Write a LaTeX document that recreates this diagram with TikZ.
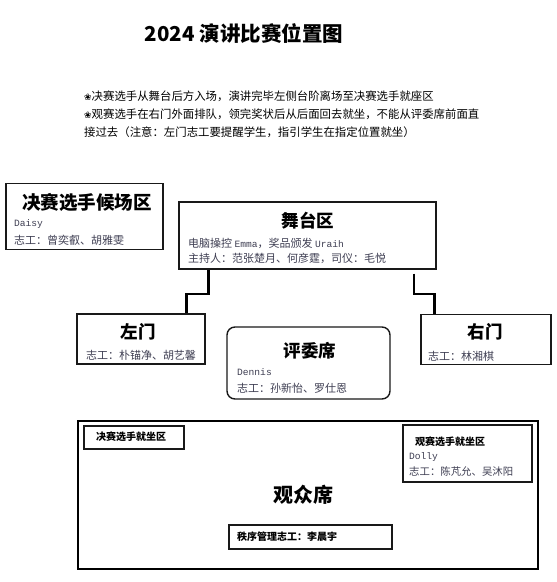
\documentclass[tikz,border=0pt]{standalone}
\usepackage{fontspec}
\setmainfont{Noto Sans CJK SC}
\newfontfamily\flowerfont{DejaVu Sans}
\newfontfamily\namefont{Liberation Mono}
\usetikzlibrary{positioning}
\definecolor{infotext}{RGB}{62,62,82}
\definecolor{zoneline}{RGB}{25,25,25}

\tikzset{
  zone/.style={draw=zoneline, line width=1.4pt, inner sep=0pt},
  bigzone/.style={draw=black, line width=2.8pt, inner sep=0pt},
  ztitle/.style={font=\fontsize{17.5}{18}\selectfont\bfseries, inner sep=0pt},
  stitle/.style={font=\fontsize{10}{11}\selectfont\bfseries, inner sep=0pt, anchor=west},
  info/.style={font=\fontsize{11}{12}\selectfont, text=infotext, inner sep=0pt, anchor=west},
  note/.style={font=\fontsize{11.4}{13}\selectfont, inner sep=0pt, anchor=west},
  stair/.style={draw=black, line width=2.4pt}
}
\newcommand{\flw}{{\fontsize{9}{9}\flowerfont ❀}}
\newcommand{\nm}[1]{{\fontsize{9.6}{11}\namefont #1}}

\begin{document}
\begin{tikzpicture}[x=1pt, y=-1pt]
  \useasboundingbox (0,0) rectangle (557,582);

  \node[font=\fontsize{20.5}{22}\selectfont\bfseries, inner sep=0pt] (title) at (244,34) {2024 演讲比赛位置图};

  \node[note] (note1) at (84,96) {\flw 决赛选手从舞台后方入场，演讲完毕左侧台阶离场至决赛选手就座区};
  \node[note] (note2) at (84,114) {\flw 观赛选手在右门外面排队，领完奖状后从后面回去就坐，不能从评委席前面直};
  \node[note] (note3) at (84,132) {接过去（注意：左门志工要提醒学生，指引学生在指定位置就坐）};

  \node[zone, minimum width=157pt, minimum height=66pt] (wait) at (84.5,216.5) {};
  \node[ztitle, font=\fontsize{18.5}{19}\selectfont\bfseries] (waitT) at (87,202) {决赛选手候场区};
  \node[info] (wait1) at (14,224) {\nm{Daisy}};
  \node[info] (wait2) at (14,240) {志工：曾奕叡、胡雅雯};

  \node[zone, minimum width=257pt, minimum height=67pt] (stage) at (307.5,235.5) {};
  \node[ztitle] (stageT) at (308,221) {舞台区};
  \node[info] (stage1) at (188,243) {电脑操控 \nm{Emma}，奖品颁发 \nm{Uraih}};
  \node[info] (stage2) at (188,258) {主持人：范张楚月、何彦霆，司仪：毛悦};

  \node[zone, minimum width=128pt, minimum height=50pt] (ldoor) at (141,339) {};
  \node[ztitle] (ldoorT) at (138,332) {左门};
  \node[info, anchor=center] (ldoor1) at (141,355) {志工：朴锚净、胡艺馨};

  \node[zone, rounded corners=8pt, minimum width=163pt, minimum height=72pt] (judge) at (308.5,363) {};
  \node[ztitle] (judgeT) at (310,351) {评委席};
  \node[info] (judge1) at (237,372) {\nm{Dennis}};
  \node[info] (judge2) at (237,388) {志工：孙新怡、罗仕恩};

  \node[zone, minimum width=130pt, minimum height=50pt] (rdoor) at (486,339.5) {};
  \node[ztitle] (rdoorT) at (485,332) {右门};
  \node[info] (rdoor1) at (428,356) {志工：林湘棋};

  \draw[stair] ([xshift=30pt]stage.south west) -- ++(0,24) -| ([xshift=110pt]ldoor.north west);
  \draw[stair] ([xshift=-23pt]stage.south east) ++(0,4) -- ++(0,20) -| ([xshift=14pt]rdoor.north west);

  \node[bigzone, minimum width=460pt, minimum height=148pt] (aud) at (308,495) {};
  \node[font=\fontsize{20}{22}\selectfont\bfseries, inner sep=0pt] (audT) at (303,495) {观众席};

  \node[zone, minimum width=100pt, minimum height=23pt] (fseat) at (134,437.5) {};
  \node[stitle] (fseatT) at (96,437) {决赛选手就坐区};

  \node[zone, minimum width=129pt, minimum height=57pt] (vseat) at (467.5,453.5) {};
  \node[stitle] (vseatT) at (415,442) {观赛选手就坐区};
  \node[info, font=\fontsize{10.4}{11}\selectfont] (vseat1) at (409,457) {\nm{Dolly}};
  \node[info, font=\fontsize{10.4}{11}\selectfont] (vseat2) at (409,472) {志工：陈芃允、吴沐阳};

  \node[zone, minimum width=163pt, minimum height=24pt] (order) at (310.5,537) {};
  \node[stitle] (orderT) at (237,537) {秩序管理志工：李晨宇};
\end{tikzpicture}
\end{document}
